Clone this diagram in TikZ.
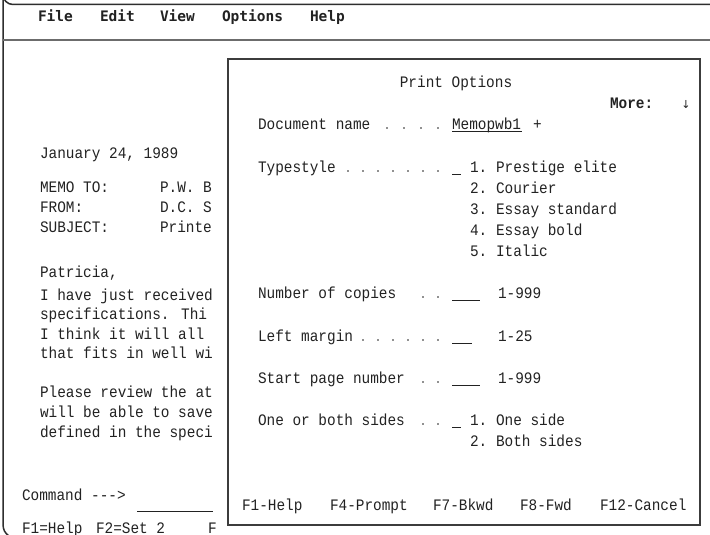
\documentclass[tikz,border=0pt]{standalone}
\usepackage{fontspec}
\newfontfamily\scrfont[FakeStretch=0.9]{Liberation Mono}
\newfontfamily\menufont{DejaVu Sans Mono}
\newfontfamily\symfont{DejaVu Sans}
\definecolor{ink}{HTML}{222222}
\definecolor{frame}{HTML}{2E2E2E}
\definecolor{sepline}{HTML}{6C6C6C}
\definecolor{boxline}{HTML}{3C3C3C}
\begin{document}
\begin{tikzpicture}[x=1pt,y=-1pt,
  every node/.style={inner sep=0pt,outer sep=0pt,text=ink,
    font=\scrfont\fontsize{16}{18}\selectfont},
  lbl/.style={anchor=base west},
  menuitem/.style={anchor=base west,font=\menufont\bfseries\fontsize{14.5}{17}\selectfont},
  field/.style={draw=ink,line width=1pt},
  leader/.style={fill=ink},
]
\useasboundingbox (0,0) rectangle (710,535);
\fill[white] (0,0) rectangle (710,535);

% window frame and menu bar
\draw[frame,line width=1.5pt] (710,4.5) -- (13,4.5) arc[start angle=90,end angle=180,radius=10]
  -- (3,524) .. controls (3,530) and (5,533) .. (9,536);
\draw[sepline,line width=2.5pt] (3,40) -- (710,40);
\node[menuitem] (mFile) at (38,22) {File};
\node[menuitem] (mEdit) at (100,22) {Edit};
\node[menuitem] (mView) at (160,22) {View};
\node[menuitem] (mOpt) at (222,22) {Options};
\node[menuitem] (mHelp) at (310,22) {Help};

% memo text behind the dialog
\node[lbl] (date) at (40,158) {January 24, 1989};
\node[lbl] (to) at (40,192) {MEMO TO:};
\node[lbl] (from) at (40,212) {FROM:};
\node[lbl] (subj) at (40,232) {SUBJECT:};
\node[lbl] (toV) at (160,192) {P.W. B};
\node[lbl] (fromV) at (160,212) {D.C. S};
\node[lbl] (subjV) at (160,232) {Printe};
\node[lbl] (greet) at (40,277) {Patricia,};
\node[lbl] (p1a) at (40,300) {I have just received};
\node[lbl] (p1b) at (40,319) {specifications.  Thi};
\node[lbl] (p1c) at (40,339) {I think it will all};
\node[lbl] (p1d) at (40,358) {that fits in well wi};
\node[lbl] (p2a) at (40,397) {Please review the at};
\node[lbl] (p2b) at (40,417) {will be able to save};
\node[lbl] (p2c) at (40,437) {defined in the speci};
\node[lbl] (cmd) at (22,500) {Command --->};
\coordinate (cmdL) at (137,511);
\coordinate (cmdR) at (213,511);
\draw[field] (cmdL) -- (cmdR);
\node[lbl] (k1) at (22,533) {F1=Help};
\node[lbl] (k2) at (96,533) {F2=Set 2};
\node[lbl] (k3) at (208,533) {F};

% dialog box
\draw[boxline,line width=1.6pt,fill=white] (228,59) rectangle (700,525);
\node[anchor=base] (title) at (456,88) {Print Options};
\node[lbl,font=\scrfont\bfseries\fontsize{16}{18}\selectfont] (more) at (610,109) {More:};
\node[anchor=base,font=\symfont\fontsize{11}{13}\selectfont] (down) at (686,109) {↓};

% document name row
\node[lbl] (docL) at (258,129) {Document name};
\foreach \x in {387,404,421,438} \fill[leader] (\x,128) circle (0.9);
\node[lbl] (docV) at (452,129) {Memopwb1};
\draw[field] (docV.base west) ++(0,2) -- ++(70,0);
\node[lbl] (docP) at (533,129) {+};

% typestyle choices
\node[lbl] (tsL) at (258,172) {Typestyle};
\foreach \x in {348,363,378,393,408,423,438} \fill[leader] (\x,171) circle (0.9);
\coordinate (tsF) at (452,174);
\draw[field] (tsF) -- ++(9,0);
\node[lbl] (ts1n) at (470,172) {1.};
\node[lbl] (ts1) at (496,172) {Prestige elite};
\node[lbl] (ts2n) at (470,193) {2.};
\node[lbl] (ts2) at (496,193) {Courier};
\node[lbl] (ts3n) at (470,214) {3.};
\node[lbl] (ts3) at (496,214) {Essay standard};
\node[lbl] (ts4n) at (470,235) {4.};
\node[lbl] (ts4) at (496,235) {Essay bold};
\node[lbl] (ts5n) at (470,256) {5.};
\node[lbl] (ts5) at (496,256) {Italic};

% numeric fields
\node[lbl] (ncL) at (258,298) {Number of copies};
\foreach \x in {423,438} \fill[leader] (\x,297) circle (0.9);
\coordinate (ncF) at (452,300);
\draw[field] (ncF) -- ++(28,0);
\node[lbl] (ncR) at (498,298) {1-999};

\node[lbl] (lmL) at (258,341) {Left margin};
\foreach \x in {363,378,393,408,423,438} \fill[leader] (\x,340) circle (0.9);
\coordinate (lmF) at (452,343);
\draw[field] (lmF) -- ++(20,0);
\node[lbl] (lmR) at (498,341) {1-25};

\node[lbl] (spL) at (258,383) {Start page number};
\foreach \x in {423,438} \fill[leader] (\x,382) circle (0.9);
\coordinate (spF) at (452,385);
\draw[field] (spF) -- ++(28,0);
\node[lbl] (spR) at (498,383) {1-999};

% sides choices
\node[lbl] (sdL) at (258,425) {One or both sides};
\foreach \x in {423,438} \fill[leader] (\x,424) circle (0.9);
\coordinate (sdF) at (452,427);
\draw[field] (sdF) -- ++(9,0);
\node[lbl] (sd1n) at (470,425) {1.};
\node[lbl] (sd1) at (496,425) {One side};
\node[lbl] (sd2n) at (470,446) {2.};
\node[lbl] (sd2) at (496,446) {Both sides};

% function keys
\node[lbl] (f1) at (242,510) {F1-Help};
\node[lbl] (f4) at (330,510) {F4-Prompt};
\node[lbl] (f7) at (433,510) {F7-Bkwd};
\node[lbl] (f8) at (520,510) {F8-Fwd};
\node[lbl] (f12) at (600,510) {F12-Cancel};
\end{tikzpicture}
\end{document}
